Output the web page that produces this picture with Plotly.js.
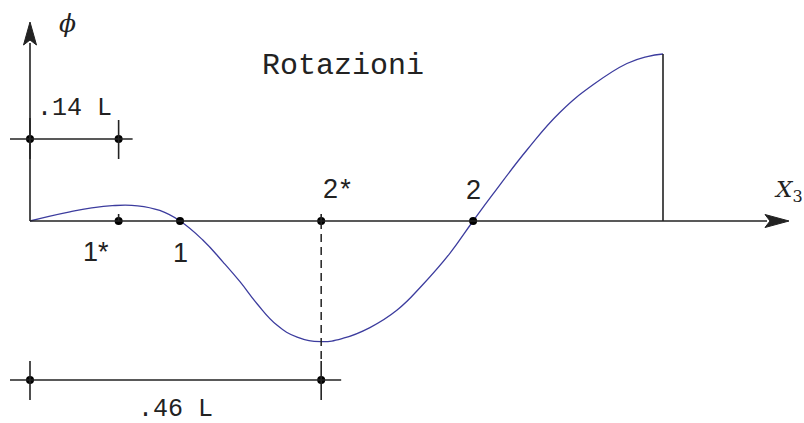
<!DOCTYPE html>
<html>
<head>
<meta charset="utf-8">
<script src="https://cdn.plot.ly/plotly-3.0.1.min.js"></script>
<style>
  html, body { margin: 0; padding: 0; background: #fff; }
  #chart { width: 804px; height: 423px; }
</style>
</head>
<body>
<div id="chart"></div>
<script>
// Rotation diagram along the beam: abscissa in units of L, rotation normalised to the end value
const xL  = [0, 0.03, 0.063, 0.095, 0.13, 0.17, 0.205, 0.237, 0.273, 0.305, 0.332, 0.359, 0.39, 0.422,
             0.46, 0.495, 0.537, 0.58, 0.62, 0.663, 0.70, 0.731, 0.785, 0.837, 0.89, 0.943, 0.975, 1.0];
const phi = [0, 0.028, 0.055, 0.077, 0.092, 0.091, 0.063, 0, -0.114, -0.246, -0.365, -0.497, -0.623, -0.695,
             -0.722, -0.702, -0.638, -0.533, -0.383, -0.195, 0, 0.159, 0.425, 0.650, 0.817, 0.943, 0.985, 1.0];

// Characteristic points on the axis (zeros and extremes)
const pointLabels = ['1*', '1', '2\u200A*', '2'];
const pointX      = [0.14, 0.237, 0.46, 0.70];
const starred     = [true, false, true, false];

// Dimension lines
const dimValues = [0.14, 0.46];
const dimLabels = ['.14 L', '.46 L'];

// Pixel scale of the drawing (px per unit)
const SX = 633, SY = 167;
const dx = p => p / SX, dy = p => p / SY;

const ink = '#222';
const mono = 'Liberation Mono, Courier New, monospace';
const sans = 'Liberation Sans, Arial, sans-serif';

const dimRows = [dy(82), -dy(159)];          // vertical levels of the two dimension lines
const shapes = [];
const line = (x0, y0, x1, y1, extra) => shapes.push(Object.assign({
  type: 'line', xref: 'x', yref: 'y', x0, y0, x1, y1,
  line: { color: ink, width: 1.6 }
}, extra || {}));

// Axes with arrowheads
const xEnd = dx(737), xTip = dx(759), yEnd = dy(178), yTip = dy(199);
line(0, 0, xEnd, 0);
line(0, 0, 0, yEnd);
shapes.push({ type: 'path', xref: 'x', yref: 'y', fillcolor: ink, line: { color: ink, width: 1 },
  path: `M ${xEnd - dx(2)} ${dy(6.5)} L ${xTip} 0 L ${xEnd - dx(2)} ${-dy(6.5)} L ${xEnd + dx(3)} 0 Z` });
shapes.push({ type: 'path', xref: 'x', yref: 'y', fillcolor: ink, line: { color: ink, width: 1 },
  path: `M ${-dx(6.5)} ${yEnd - dy(2)} L 0 ${yTip} L ${dx(6.5)} ${yEnd - dy(2)} L 0 ${yEnd + dy(3)} Z` });

// Closing vertical at the free end
line(xL[xL.length - 1], 0, xL[xL.length - 1], phi[phi.length - 1]);

// Small ticks above the starred points
pointX.forEach((x, i) => { if (starred[i]) line(x, 0, x, dy(7)); });

// Dashed drop line from the minimum to the lower dimension line
line(dimValues[1], 0, dimValues[1], dimRows[1] + dy(19), { line: { color: ink, width: 1.5, dash: '8px,5px' } });

// Dimension lines with end ticks
dimValues.forEach((v, i) => {
  const r = dimRows[i];
  line(-dx(20), r, v + dx(i === 0 ? 14 : 20), r);
  line(0, r + dy(i === 0 ? 21 : 19), 0, r - dy(20));
  line(v, r + dy(19), v, r - dy(20));
});

const annotations = [];
// Point labels
const shifts = [[-23, -31], [0, -32], [16, 32], [0, 31]];
pointX.forEach((x, i) => annotations.push({
  x, y: 0, xref: 'x', yref: 'y', text: pointLabels[i], showarrow: false,
  xshift: shifts[i][0], yshift: shifts[i][1],
  font: { family: sans, size: 27, color: ink }
}));
// Dimension labels
dimValues.forEach((v, i) => annotations.push({
  x: v / 2, y: dimRows[i], xref: 'x', yref: 'y', text: dimLabels[i], showarrow: false,
  yshift: i === 0 ? 31 : -29,
  font: { family: mono, size: 25, color: ink }
}));
// Axis labels
annotations.push({ x: dx(37), y: dy(198), xref: 'x', yref: 'y', text: '<i>ϕ</i>', showarrow: false,
  font: { family: 'DejaVu Serif, serif', size: 25, color: ink } });
annotations.push({ x: dx(758), y: dy(30), xref: 'x', yref: 'y', text: '<i>X</i><sub>3</sub>', showarrow: false,
  font: { family: 'DejaVu Serif, serif', size: 23, color: ink } });

const traces = [
  { x: xL, y: phi, type: 'scatter', mode: 'lines', hoverinfo: 'skip',
    line: { color: '#3c3c9e', width: 1.3, shape: 'spline', smoothing: 1.3 } },
  { x: pointX.concat([0, dimValues[0], 0, dimValues[1]]),
    y: pointX.map(() => 0).concat([dimRows[0], dimRows[0], dimRows[1], dimRows[1]]),
    type: 'scatter', mode: 'markers', hoverinfo: 'skip',
    marker: { color: '#000', size: 8 } }
];

const layout = {
  width: 804, height: 423,
  margin: { l: 0, r: 0, t: 0, b: 0 },
  paper_bgcolor: '#fff', plot_bgcolor: '#fff',
  showlegend: false,
  title: { text: 'Rotazioni', x: 343 / 804, y: 1 - 63 / 423, xanchor: 'center', yanchor: 'middle',
           font: { family: mono, size: 30, color: ink } },
  xaxis: { range: [-30 / SX, 774 / SX], visible: false, fixedrange: true },
  yaxis: { range: [-202 / SY, 221 / SY], visible: false, fixedrange: true },
  shapes, annotations
};

Plotly.newPlot('chart', traces, layout, { displayModeBar: false, staticPlot: true });
</script>
</body>
</html>
